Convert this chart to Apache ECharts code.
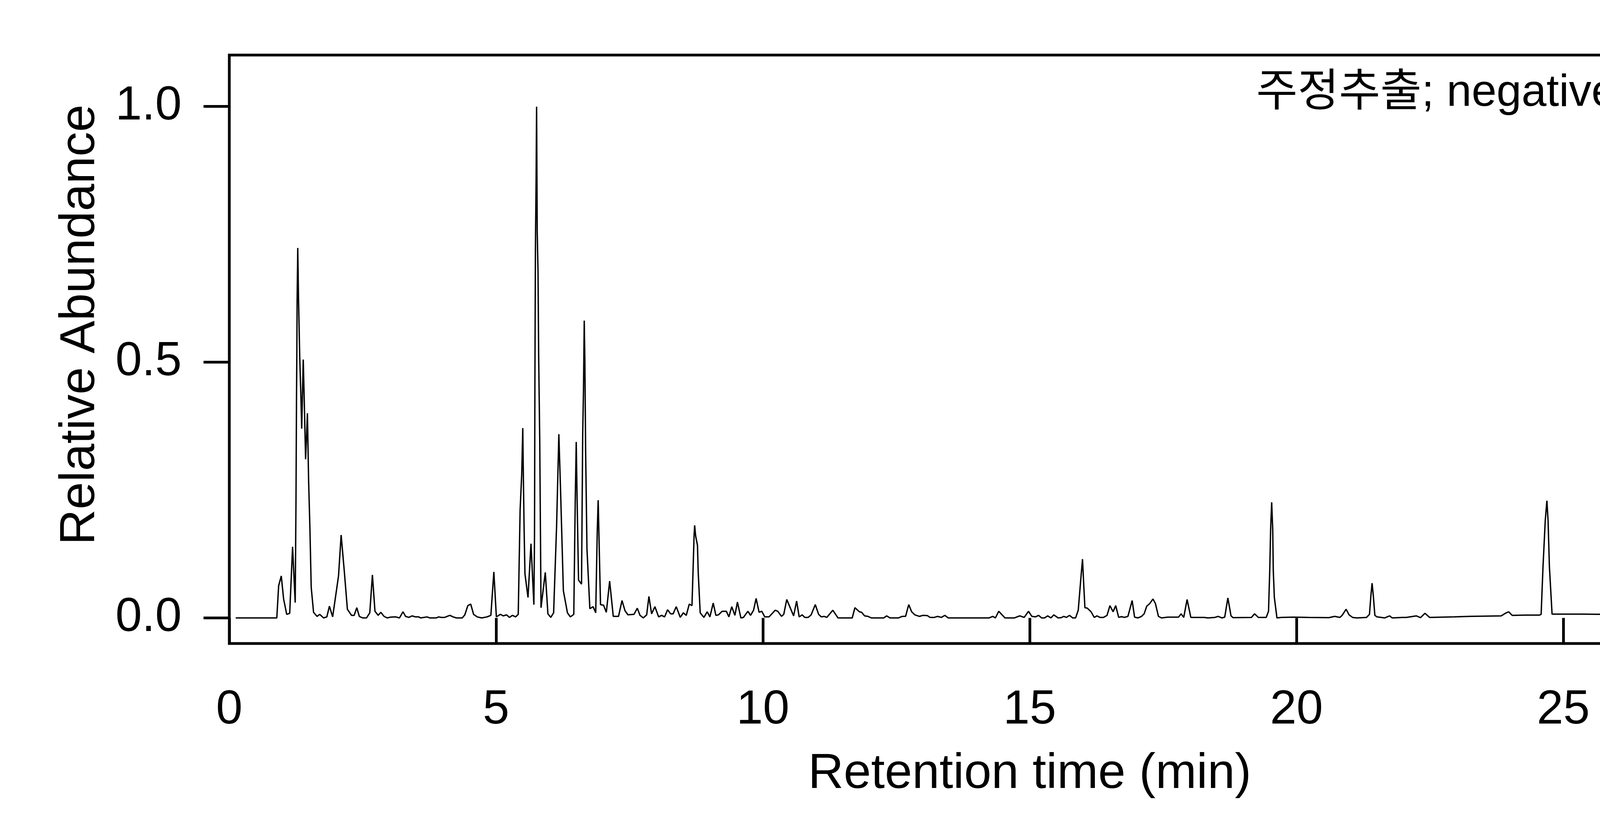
<!DOCTYPE html>
<html>
<head>
<meta charset="utf-8">
<script src="https://cdn.jsdelivr.net/npm/echarts@6/dist/echarts.min.js"></script>
<style>
  html, body { margin: 0; padding: 0; background: #fff; }
  #main { width: 6000px; height: 2100px; }
</style>
</head>
<body>
<div id="main"></div>
<script>
// chromatogram (min, relative abundance)
var earlyTime = [0.12, 0.89, 0.925, 0.974, 1.018, 1.076, 1.132, 1.186, 1.235, 1.25, 1.259, 1.266, 1.271, 1.283, 1.298,
    1.32, 1.34, 1.357, 1.386, 1.408, 1.43, 1.446, 1.464, 1.486, 1.511, 1.535, 1.579, 1.645, 1.694, 1.767, 1.828,
    1.876, 1.937, 2.047, 2.096, 2.157, 2.213, 2.291, 2.34, 2.389, 2.437, 2.499, 2.572, 2.633, 2.682, 2.73, 2.79,
    2.84, 2.9, 2.96, 3.02, 3.12, 3.19, 3.255, 3.304, 3.365, 3.426, 3.49, 3.55, 3.585, 3.706, 3.755, 3.878, 3.926,
    3.975, 4.036, 4.133, 4.195, 4.256, 4.366, 4.414, 4.47, 4.524, 4.578, 4.646, 4.731, 4.83, 4.902, 4.958, 5.005,
    5.08, 5.134, 5.195, 5.25, 5.306, 5.367];
var earlyAbund = [0, 0, 0.063, 0.082, 0.037, 0.007, 0.009, 0.139, 0.030, 0.23, 0.42, 0.52, 0.62, 0.723, 0.62,
    0.51, 0.44, 0.37, 0.505, 0.41, 0.31, 0.35, 0.40, 0.27, 0.175, 0.06, 0.011, 0.003, 0.007, 0, 0.002,
    0.023, 0.002, 0.082, 0.162, 0.089, 0.017, 0.005, 0.005, 0.02, 0.003, 0, 0, 0.01, 0.084, 0.013, 0.005,
    0.011, 0.003, 0, 0.0015, 0.002, 0, 0.012, 0.003, 0.001, 0.004, 0.002, 0.002, 0, 0.002, 0, 0, 0.002,
    0.001, 0.001, 0.005, 0.002, 0, 0, 0.006, 0.024, 0.027, 0.007, 0.002, 0, 0.002, 0.005, 0.09, 0.002,
    0.007, 0.004, 0.006, 0.001, 0.005, 0.002];

var mainTime = [5.415, 5.45, 5.48, 5.5, 5.512, 5.524, 5.541, 5.598, 5.654, 5.708, 5.72, 5.727, 5.737, 5.75, 5.759,
    5.771, 5.786, 5.798, 5.818, 5.842, 5.922, 5.971, 6.025, 6.078, 6.134, 6.176, 6.208, 6.261, 6.337, 6.391,
    6.456, 6.483, 6.502, 6.517, 6.545, 6.601, 6.623, 6.637, 6.652, 6.664, 6.678, 6.703, 6.757, 6.818, 6.867,
    6.896, 6.913, 6.928, 6.957, 7.013, 7.066, 7.128, 7.196, 7.294, 7.36];
var mainAbund = [0.007, 0.21, 0.28, 0.371, 0.27, 0.18, 0.086, 0.04, 0.145, 0.026, 0.16, 0.445, 0.72, 0.86, 0.999,
    0.754, 0.675, 0.51, 0.346, 0.02, 0.089, 0.008, 0.001, 0.01, 0.18, 0.359, 0.25, 0.053, 0.01, 0.002,
    0.007, 0.227, 0.344, 0.24, 0.074, 0.066, 0.359, 0.44, 0.581, 0.50, 0.326, 0.135, 0.018, 0.022, 0.01,
    0.17, 0.23, 0.16, 0.026, 0.025, 0.011, 0.072, 0.003, 0.003, 0.034];

var midTime = [7.416, 7.472, 7.584, 7.646, 7.697, 7.758, 7.822, 7.864, 7.914, 7.976, 8.046, 8.102, 8.158, 8.214,
    8.27, 8.318, 8.376, 8.452, 8.508, 8.564, 8.62, 8.671, 8.69, 8.71, 8.721, 8.74, 8.774, 8.788, 8.825, 8.894,
    8.957, 9.007, 9.069, 9.119, 9.167, 9.237, 9.315, 9.363, 9.416, 9.475, 9.523, 9.587, 9.635, 9.719, 9.769,
    9.825, 9.873, 9.929, 9.979, 10.035, 10.114, 10.231, 10.279, 10.349, 10.391, 10.447, 10.576, 10.632, 10.68,
    10.736, 10.786, 10.848, 10.904, 10.982, 11.044, 11.094, 11.15, 11.198, 11.31, 11.408, 11.674, 11.725,
    11.808, 11.85, 11.906, 11.97, 12.03, 12.265, 12.32, 12.38, 12.543, 12.609, 12.674, 12.733, 12.788, 12.847,
    12.935, 13.0, 13.083, 13.132, 13.213, 13.272, 13.344, 13.409, 13.475, 14.24, 14.308, 14.357, 14.42, 14.537,
    14.716, 14.814, 14.896, 14.978, 15.04, 15.109, 15.167, 15.223, 15.278, 15.338, 15.397, 15.452, 15.533,
    15.59, 15.638, 15.69, 15.746, 15.805, 15.86, 15.91, 15.958, 15.99, 16.015, 16.035, 16.08, 16.15, 16.21,
    16.26, 16.318, 16.383, 16.449, 16.504, 16.563, 16.612, 16.668, 16.72, 16.776, 16.841, 16.92];
var midAbund = [0.014, 0.006, 0.007, 0.019, 0.005, 0, 0.006, 0.042, 0.008, 0.022, 0.002, 0.005, 0.002, 0.016,
    0.008, 0.008, 0.022, 0.001, 0.01, 0.005, 0.027, 0.024, 0.089, 0.16, 0.181, 0.16, 0.142, 0.089, 0.01, 0.001,
    0.012, 0.002, 0.029, 0.005, 0.006, 0.013, 0.013, 0.002, 0.022, 0.005, 0.031, 0, 0.001, 0.013, 0.005,
    0.015, 0.038, 0.011, 0.013, 0.002, 0.002, 0.015, 0.013, 0.003, 0.007, 0.036, 0.004, 0.033, 0.002,
    0.006, 0.001, 0.001, 0.006, 0.026, 0.007, 0.002, 0.003, 0.001, 0.015, 0, 0, 0.02,
    0.012, 0.011, 0.004, 0.003, 0, 0, 0.004, 0, 0, 0.003, 0.003, 0.026, 0.012, 0.006,
    0.003, 0.005, 0.0045, 0.001, 0.001, 0.003, 0.001, 0.005, 0, 0, 0.003, 0, 0.013, 0,
    0, 0.004, 0.001, 0.013, 0.003, 0.002, 0.005, 0, 0, 0.004, 0, 0.006, 0,
    0.0005, 0.003, 0.001, 0.005, 0, 0, 0.015, 0.076, 0.115, 0.06, 0.02, 0.019, 0.012, 0.001,
    0.004, 0.001, 0.001, 0.005, 0.024, 0.012, 0.024, 0.001, 0.0025, 0.001, 0.003, 0.034];

var lateTime = [16.966, 17.03, 17.096, 17.145, 17.194, 17.25, 17.31, 17.357, 17.413, 17.47, 17.587, 17.789, 17.838,
    17.887, 17.95, 18.02, 18.273, 18.338, 18.47, 18.534, 18.6, 18.655, 18.714, 18.773, 18.812, 19.156, 19.214,
    19.286, 19.433, 19.476, 19.499, 19.515, 19.535, 19.555, 19.565, 19.585, 19.634, 19.71, 19.94, 20.233,
    20.609, 20.716, 20.813, 20.855, 20.93, 20.986, 21.05, 21.132, 21.312, 21.368, 21.394, 21.417, 21.44,
    21.469, 21.508, 21.655, 21.744, 21.793, 21.982, 22.057, 22.247, 22.325, 22.407, 22.495, 22.727, 22.96,
    23.244, 23.502, 23.837, 23.914, 23.976, 24.043, 24.275, 24.55, 24.585, 24.62, 24.662, 24.693, 24.715,
    24.74, 24.79, 24.946, 25.358, 25.67, 25.874, 26.03, 26.158, 26.313, 26.597, 26.855, 27.087, 27.242,
    27.474, 27.68, 27.886, 27.99, 28.17, 28.3, 28.454, 28.532, 28.686, 28.789, 28.867, 28.97, 29.073, 29.28,
    29.486, 29.8, 29.975];
var lateAbund = [0.0015, 0, 0.003, 0.008, 0.023, 0.028, 0.037, 0.028, 0.003, 0, 0.0015, 0.0015, 0.008,
    0.001, 0.036, 0.001, 0.001, 0, 0.001, 0.003, 0, 0.0015, 0.039, 0.004, 0.0005, 0.001, 0.008,
    0.001, 0.001, 0.013, 0.093, 0.172, 0.226, 0.172, 0.093, 0.04, 0, 0.001, 0.0015, 0.001,
    0.0005, 0.003, 0.001, 0.005, 0.017, 0.006, 0.001, 0, 0.001, 0.007, 0.043, 0.068, 0.043,
    0.005, 0.002, 0, 0.004, 0, 0.001, 0.001, 0.004, 0.0005, 0.009, 0.001, 0.0015, 0.002,
    0.003, 0.0035, 0.004, 0.009, 0.012, 0.005, 0.0055, 0.0055, 0.007, 0.10, 0.19, 0.229, 0.19,
    0.10, 0.0074, 0.0074, 0.0074, 0.007, 0.0087, 0.006, 0.007, 0.0036, 0.0036, 0.002, 0.0015, 0.002,
    0.006, 0.0087, 0.0087, 0.0087, 0.005, 0.003, 0.003, 0.006, 0.0055, 0.011, 0.0055, 0.008, 0.0018, 0.002,
    0.0036, 0.0036, 0.002];

var xTicks = [0, 5, 10, 15, 20, 25, 30];
var yTicks = [0, 0.5, 1.0];
var sampleLabel = '주정추출; negative ion mode';

var font = "'Liberation Sans', Arial, 'Noto Sans CJK KR', sans-serif";

var times = earlyTime.concat(mainTime, midTime, lateTime);
var abund = earlyAbund.concat(mainAbund, midAbund, lateAbund);
var points = [];
for (var i = 0; i < times.length; i++) {
    points.push([times[i], abund[i]]);
}

var chart = echarts.init(document.getElementById('main'), null, { renderer: 'canvas' });

var option = {
    animation: false,
    backgroundColor: '#ffffff',
    grid: {
        left: 587,
        right: 1315,
        top: 141,
        bottom: 452,
        show: true,
        borderColor: '#000',
        borderWidth: 7,
        backgroundColor: 'transparent'
    },
    xAxis: {
        type: 'value',
        min: 0,
        max: 30,
        interval: 5,
        name: 'Retention time (min)',
        nameLocation: 'middle',
        nameGap: 272,
        nameTextStyle: { fontFamily: font, fontSize: 126, color: '#000' },
        axisLine: { show: false },
        axisTick: {
            show: true,
            length: 66,
            customValues: xTicks,
            lineStyle: { color: '#000', width: 7 }
        },
        axisLabel: {
            margin: 110,
            fontFamily: font,
            fontSize: 122,
            color: '#000',
            customValues: xTicks
        },
        splitLine: { show: false }
    },
    yAxis: {
        type: 'value',
        min: -0.05,
        max: 1.1,
        name: 'Relative Abundance',
        nameLocation: 'middle',
        nameGap: 318,
        nameTextStyle: { fontFamily: font, fontSize: 126, color: '#000', padding: [0, 0, 0, 126] },
        axisLine: { show: false },
        axisTick: {
            show: true,
            length: 66,
            customValues: yTicks,
            lineStyle: { color: '#000', width: 7 }
        },
        axisLabel: {
            margin: 122,
            fontFamily: font,
            fontSize: 122,
            color: '#000',
            customValues: yTicks,
            formatter: function (v) { return v.toFixed(1); }
        },
        splitLine: { show: false }
    },
    graphic: [
        {
            type: 'text',
            right: 1357,
            top: 182,
            style: {
                text: sampleLabel,
                fontFamily: font,
                fontSize: 115,
                fill: '#000'
            }
        }
    ],
    series: [
        {
            type: 'line',
            data: points,
            showSymbol: false,
            symbol: 'none',
            lineStyle: { color: '#000', width: 3.5 },
            clip: true
        }
    ]
};

chart.setOption(option);
</script>
</body>
</html>
